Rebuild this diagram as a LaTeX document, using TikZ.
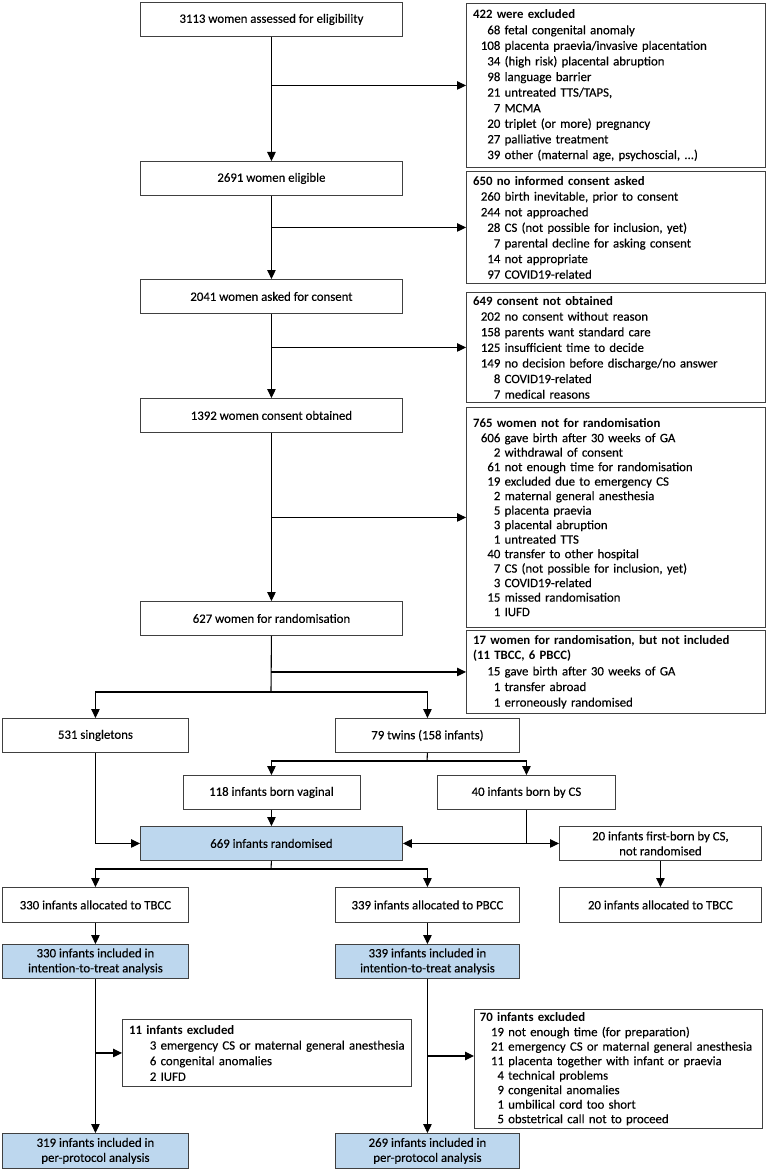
\documentclass[tikz,border=0pt]{standalone}
\usepackage{fontspec}
\setmainfont{Carlito}[UprightFeatures={FakeBold=0.25}]
\usetikzlibrary{arrows.meta}
\definecolor{bluefill}{HTML}{BDD7EE}
\definecolor{boxline}{HTML}{404040}
\newlength\nw
\setlength\nw{27.3pt}
\newcommand\xl[2]{\makebox[\nw][r]{#1}\ \mbox{#2}}
\begin{document}
\begin{tikzpicture}[x=1pt,y=-1pt,
  font=\fontsize{12.8pt}{15.6pt}\selectfont,
  mbox/.style={draw=boxline, line width=0.9pt, anchor=north west, align=center, minimum height=34pt, inner sep=1pt},
  xbox/.style={draw=boxline, line width=0.9pt, anchor=north west, align=left, inner xsep=6.6pt, inner ysep=0pt},
  bfill/.style={fill=bluefill},
  twoline/.style={font=\fontsize{12.8pt}{15pt}\selectfont},
  tight/.style={font=\fontsize{12.8pt}{14.5pt}\selectfont},
  conn/.style={line width=1.1pt, draw=black},
  arr/.style={conn, -{Triangle[length=9pt,width=8.5pt]}}]
\useasboundingbox (0,0) rectangle (766,1169);

% main column
\node[mbox, minimum width=262pt] (b1) at (140,2) {3113 women assessed for eligibility};
\node[mbox, minimum width=262pt] (b2) at (140,161) {2691 women eligible};
\node[mbox, minimum width=262pt] (b3) at (140,279) {2041 women asked for consent};
\node[mbox, minimum width=262pt] (b4) at (140,398) {1392 women consent obtained};
\node[mbox, minimum width=262pt] (b5) at (140,601) {627 women for randomisation};

% exclusion boxes
\node[xbox, text width=285.8pt, minimum height=164pt] (x1) at (466,3) {%
\textbf{422 were excluded}\\
\xl{68}{fetal congenital anomaly}\\
\xl{108}{placenta praevia/invasive placentation}\\
\xl{34}{(high risk) placental abruption}\\
\xl{98}{language barrier}\\
\xl{21}{untreated TTS/TAPS,}\\
\xl{7}{MCMA}\\
\xl{20}{triplet (or more) pregnancy}\\
\xl{27}{palliative treatment}\\
\xl{39}{other (maternal age, psychoscial, ...)}};

\node[xbox, text width=285.8pt, minimum height=112pt] (x2) at (466,171) {%
\textbf{650 no informed consent asked}\\
\xl{260}{birth inevitable, prior to consent}\\
\xl{244}{not approached}\\
\xl{28}{CS (not possible for inclusion, yet)}\\
\xl{7}{parental decline for asking consent}\\
\xl{14}{not appropriate}\\
\xl{97}{COVID19-related}};

\node[xbox, text width=285.8pt, minimum height=110pt] (x3) at (466,292) {%
\textbf{649 consent not obtained}\\
\xl{202}{no consent without reason}\\
\xl{158}{parents want standard care}\\
\xl{125}{insufficient time to decide}\\
\xl{149}{no decision before discharge/no answer}\\
\xl{8}{COVID19-related}\\
\xl{7}{medical reasons}};

\node[xbox, tight, text width=285.8pt, minimum height=220pt] (x4) at (466,407) {%
\textbf{765 women not for randomisation}\\
\xl{606}{gave birth after 30 weeks of GA}\\
\xl{2}{withdrawal of consent}\\
\xl{61}{not enough time for randomisation}\\
\xl{19}{excluded due to emergency CS}\\
\xl{2}{maternal general anesthesia}\\
\xl{5}{placenta praevia}\\
\xl{3}{placental abruption}\\
\xl{1}{untreated TTS}\\
\xl{40}{transfer to other hospital}\\
\xl{7}{CS (not possible for inclusion, yet)}\\
\xl{3}{COVID19-related}\\
\xl{15}{missed randomisation}\\
\xl{1}{IUFD}};

\node[xbox, text width=285.8pt, minimum height=83pt] (x5) at (466,630) {%
\textbf{17 women for randomisation, but not included}\\
\textbf{(11 TBCC, 6 PBCC)}\\
\xl{15}{gave birth after 30 weeks of GA}\\
\xl{1}{transfer abroad}\\
\xl{1}{erroneously randomised}};

% infants part
\node[mbox, minimum width=186pt] (sing) at (2,718) {531 singletons};
\node[mbox, minimum width=184pt] (twin) at (335,718) {79 twins (158 infants)};
\node[mbox, minimum width=177pt] (v118) at (182.5,775) {118 infants born vaginal};
\node[mbox, minimum width=178pt] (cs40) at (437,775) {40 infants born by CS};
\node[mbox, bfill, minimum width=262pt] (r669) at (140,826) {669 infants randomised};
\node[mbox, twoline, minimum width=202pt] (fb20) at (559,826) {20 infants first-born by CS,\\not randomised};
\node[mbox, minimum width=186pt, minimum height=35pt] (a330) at (2,887) {330 infants allocated to TBCC};
\node[mbox, minimum width=184pt, minimum height=35pt] (a339) at (335,887) {339 infants allocated to PBCC};
\node[mbox, minimum width=202pt, minimum height=35pt] (a20) at (559,887) {20 infants allocated to TBCC};
\node[mbox, bfill, twoline, minimum width=186pt] (i330) at (2,944) {330 infants included in\\intention-to-treat analysis};
\node[mbox, bfill, twoline, minimum width=184pt] (i339) at (335,944) {339 infants included in\\intention-to-treat analysis};
\node[mbox, bfill, twoline, minimum width=186pt, minimum height=35pt] (p319) at (2,1133) {319 infants included in\\per-protocol analysis};
\node[mbox, bfill, twoline, minimum width=184pt, minimum height=35pt] (p269) at (335,1133) {269 infants included in\\per-protocol analysis};

\node[xbox, text width=275.8pt, minimum height=67pt] (x11) at (122,1019) {%
\textbf{11 infants excluded}\\
\xl{3}{emergency CS or maternal general anesthesia}\\
\xl{6}{congenital anomalies}\\
\xl{2}{IUFD}};

\node[xbox, tight, inner xsep=5.5pt, text width=277pt, minimum height=119pt] (x70) at (474,1009) {%
\setlength\nw{24pt}%
\textbf{70 infants excluded}\\
\xl{19}{not enough time (for preparation)}\\
\xl{21}{emergency CS or maternal general anesthesia}\\
\xl{11}{placenta together with infant or praevia}\\
\xl{4}{technical problems}\\
\xl{9}{congenital anomalies}\\
\xl{1}{umbilical cord too short}\\
\xl{5}{obstetrical call not to proceed}};

% connectors
\draw[arr] (b1) -- (b2);
\draw[arr] (b1.south |- x1.west) -- (x1.west);
\draw[arr] (b2) -- (b3);
\draw[arr] (b2.south |- x2.west) -- (x2.west);
\draw[arr] (b3) -- (b4);
\draw[arr] (b3.south |- x3.west) -- (x3.west);
\draw[arr] (b4) -- (b5);
\draw[arr] (b4.south |- x4.west) -- (x4.west);
\coordinate (s1) at (271,692);
\draw[conn] (b5.south) -- (s1);
\draw[arr] (b5.south |- x5.west) -- (x5.west);
\draw[arr] (s1) -| (sing.north);
\draw[arr] (s1) -| (twin.north);
\coordinate (s2) at (427,761);
\draw[conn] (twin.south) -- (s2);
\draw[arr] (s2) -| (v118.north);
\draw[arr] (s2) -| (cs40.north);
\draw[arr] (v118) -- (r669);
\draw[arr] (sing.south) |- (r669.west);
\coordinate (c40) at (cs40.south |- r669.east);
\draw[conn] (cs40.south) -- (c40);
\draw[arr] (c40) -- (r669.east);
\draw[arr] (c40) -- (fb20.west);
\coordinate (s3) at (271,869);
\draw[conn] (r669.south) -- (s3);
\draw[arr] (s3) -| (a330.north);
\draw[arr] (s3) -| (a339.north);
\draw[arr] (fb20) -- (a20);
\draw[arr] (a330) -- (i330);
\draw[arr] (a339) -- (i339);
\draw[arr] (i330) -- (p319);
\draw[arr] (i330.south |- x11.west) -- (x11.west);
\draw[arr] (i339) -- (p269);
\coordinate (j70) at (427,1056);
\draw[arr] (j70) -- (j70 -| x70.west);
\end{tikzpicture}
\end{document}
